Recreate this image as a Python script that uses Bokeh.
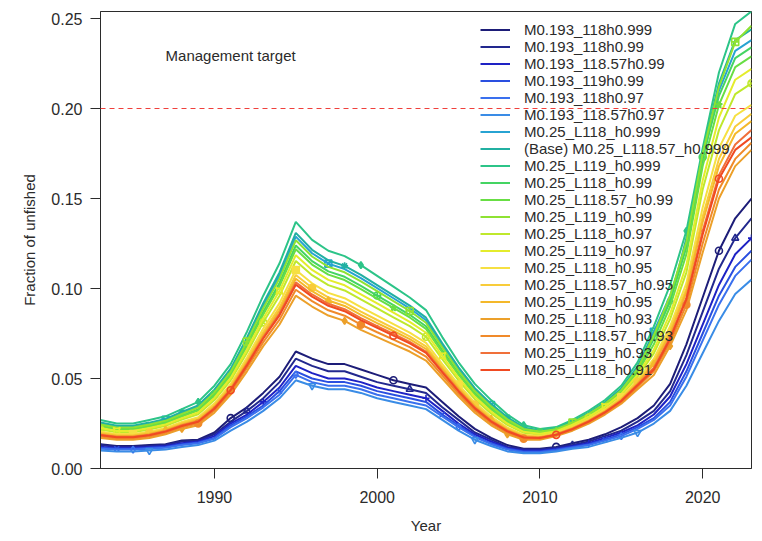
from bokeh.plotting import figure
from bokeh.models import Range1d, FixedTicker, Span, Label, Legend, LegendItem, NumeralTickFormatter
from bokeh.embed import file_html
from bokeh.resources import INLINE

# ---- data -------------------------------------------------------------
years = list(range(1983, 2024))
target = 0.20

m193_118_h999 = [0.0135, 0.0125, 0.0125, 0.013, 0.0135, 0.0155, 0.016, 0.020, 0.028, 0.034, 0.042, 0.051, 0.065, 0.061, 0.058, 0.058, 0.055, 0.052, 0.049, 0.047, 0.045, 0.037, 0.029, 0.022, 0.017, 0.013, 0.011, 0.011, 0.012, 0.014, 0.016, 0.019, 0.023, 0.028, 0.035, 0.047, 0.069, 0.095, 0.121, 0.139, 0.150]
m193_118_h99 = [0.013, 0.012, 0.012, 0.0125, 0.013, 0.015, 0.0155, 0.019, 0.026, 0.032, 0.039, 0.048, 0.061, 0.057, 0.054, 0.054, 0.051, 0.048, 0.046, 0.044, 0.042, 0.034, 0.027, 0.020, 0.016, 0.012, 0.0105, 0.0105, 0.0115, 0.013, 0.015, 0.018, 0.021, 0.026, 0.032, 0.043, 0.063, 0.087, 0.111, 0.128, 0.139]
m193_11857_h99 = [0.012, 0.0115, 0.0115, 0.012, 0.0125, 0.014, 0.015, 0.018, 0.025, 0.030, 0.037, 0.045, 0.057, 0.053, 0.050, 0.050, 0.048, 0.045, 0.043, 0.041, 0.039, 0.032, 0.025, 0.019, 0.015, 0.0115, 0.010, 0.010, 0.011, 0.0125, 0.014, 0.017, 0.020, 0.024, 0.030, 0.040, 0.058, 0.080, 0.102, 0.119, 0.128]
m193_119_h99 = [0.0115, 0.011, 0.011, 0.0115, 0.012, 0.0135, 0.0145, 0.017, 0.024, 0.029, 0.035, 0.043, 0.054, 0.050, 0.048, 0.048, 0.046, 0.043, 0.041, 0.039, 0.037, 0.030, 0.024, 0.018, 0.014, 0.011, 0.0095, 0.0095, 0.0105, 0.012, 0.0135, 0.016, 0.019, 0.023, 0.028, 0.037, 0.054, 0.075, 0.096, 0.112, 0.121]
m193_118_h97 = [0.011, 0.0105, 0.0105, 0.011, 0.0115, 0.013, 0.014, 0.0165, 0.023, 0.028, 0.034, 0.041, 0.052, 0.048, 0.046, 0.046, 0.044, 0.041, 0.039, 0.037, 0.035, 0.029, 0.023, 0.0175, 0.0135, 0.0105, 0.009, 0.009, 0.010, 0.0115, 0.013, 0.0155, 0.018, 0.022, 0.027, 0.035, 0.051, 0.071, 0.091, 0.107, 0.116]
m193_11857_h97 = [0.010, 0.0095, 0.0095, 0.010, 0.0105, 0.012, 0.013, 0.0155, 0.021, 0.026, 0.032, 0.039, 0.049, 0.046, 0.044, 0.044, 0.042, 0.039, 0.037, 0.035, 0.033, 0.027, 0.021, 0.016, 0.0125, 0.0095, 0.0085, 0.0085, 0.0095, 0.011, 0.012, 0.0145, 0.017, 0.020, 0.025, 0.032, 0.046, 0.064, 0.082, 0.097, 0.105]

m25_l118_h999 = [0.025, 0.0232, 0.0232, 0.025, 0.027, 0.0308, 0.0344, 0.043, 0.0546, 0.0716, 0.0904, 0.1072, 0.1288, 0.1196, 0.1138, 0.1108, 0.1058, 0.1002, 0.0946, 0.089, 0.0824, 0.0684, 0.0552, 0.0438, 0.0352, 0.0278, 0.0224, 0.0208, 0.022, 0.0258, 0.0306, 0.0364, 0.044, 0.056, 0.076, 0.096, 0.124, 0.172, 0.210, 0.232, 0.238]
m25_l11857_h999 = [0.0255, 0.0237, 0.0237, 0.0255, 0.0275, 0.0314, 0.0351, 0.0438, 0.0555, 0.0727, 0.0918, 0.1089, 0.1309, 0.1215, 0.1156, 0.1126, 0.1076, 0.1019, 0.0962, 0.0905, 0.0838, 0.0696, 0.0562, 0.0446, 0.0359, 0.0284, 0.0228, 0.0211, 0.0223, 0.0261, 0.0309, 0.0368, 0.0445, 0.0568, 0.075, 0.093, 0.128, 0.176, 0.214, 0.238, 0.244]
m25_l119_h999 = [0.027, 0.025, 0.025, 0.027, 0.029, 0.033, 0.037, 0.046, 0.058, 0.076, 0.096, 0.114, 0.137, 0.127, 0.121, 0.118, 0.113, 0.107, 0.101, 0.095, 0.088, 0.073, 0.059, 0.047, 0.038, 0.030, 0.024, 0.022, 0.023, 0.027, 0.032, 0.038, 0.046, 0.059, 0.079, 0.102, 0.132, 0.178, 0.220, 0.247, 0.254]
m25_l118_h99 = [0.0238, 0.0221, 0.0221, 0.0238, 0.0258, 0.0295, 0.0328, 0.0412, 0.0526, 0.069, 0.087, 0.1031, 0.1239, 0.1152, 0.1095, 0.1065, 0.1015, 0.0961, 0.0908, 0.0854, 0.079, 0.0656, 0.0529, 0.0419, 0.0335, 0.0265, 0.0214, 0.0201, 0.0214, 0.0251, 0.0298, 0.0354, 0.0428, 0.0542, 0.072, 0.093, 0.123, 0.173, 0.207, 0.228, 0.234]
m25_l11857_h99 = [0.0233, 0.0217, 0.0217, 0.0233, 0.0253, 0.0289, 0.0322, 0.0404, 0.0517, 0.0679, 0.0856, 0.1014, 0.1218, 0.1133, 0.1077, 0.1047, 0.0997, 0.0944, 0.0892, 0.0839, 0.0776, 0.0645, 0.052, 0.0411, 0.0328, 0.0259, 0.021, 0.0198, 0.0211, 0.0248, 0.0294, 0.035, 0.0423, 0.0534, 0.069, 0.090, 0.119, 0.168, 0.202, 0.223, 0.229]
m25_l119_h99 = [0.0245, 0.0228, 0.0228, 0.0245, 0.0265, 0.0303, 0.0338, 0.0423, 0.0538, 0.0705, 0.089, 0.1055, 0.1268, 0.1178, 0.112, 0.109, 0.104, 0.0985, 0.093, 0.0875, 0.081, 0.0673, 0.0543, 0.043, 0.0345, 0.0273, 0.022, 0.0205, 0.0218, 0.0255, 0.0303, 0.036, 0.0435, 0.0553, 0.074, 0.096, 0.126, 0.175, 0.212, 0.237, 0.246]
m25_l118_h97 = [0.0217, 0.0202, 0.0202, 0.0217, 0.0237, 0.0272, 0.0301, 0.038, 0.049, 0.0643, 0.0812, 0.096, 0.1153, 0.1074, 0.1019, 0.0989, 0.0939, 0.089, 0.084, 0.0791, 0.0732, 0.0608, 0.0489, 0.0385, 0.0306, 0.0242, 0.0198, 0.0188, 0.0203, 0.0238, 0.0283, 0.0338, 0.0407, 0.051, 0.064, 0.083, 0.109, 0.155, 0.188, 0.208, 0.214]
m25_l119_h97 = [0.0225, 0.0209, 0.0209, 0.0225, 0.0245, 0.028, 0.0311, 0.0392, 0.0503, 0.0661, 0.0834, 0.0987, 0.1185, 0.1103, 0.1048, 0.1018, 0.0968, 0.0917, 0.0866, 0.0815, 0.0754, 0.0626, 0.0504, 0.0398, 0.0317, 0.025, 0.0204, 0.0193, 0.0207, 0.0243, 0.0288, 0.0344, 0.0415, 0.0522, 0.066, 0.086, 0.113, 0.160, 0.195, 0.216, 0.222]
m25_l118_h95 = [0.0205, 0.0191, 0.0191, 0.0205, 0.0225, 0.0258, 0.0285, 0.0362, 0.0469, 0.0617, 0.0778, 0.0919, 0.1103, 0.1029, 0.0976, 0.0946, 0.0896, 0.0849, 0.0802, 0.0755, 0.0698, 0.058, 0.0466, 0.0366, 0.0289, 0.0228, 0.0188, 0.0181, 0.0197, 0.0231, 0.0274, 0.0328, 0.0395, 0.0492, 0.061, 0.079, 0.103, 0.145, 0.178, 0.196, 0.202]
m25_l11857_h95 = [0.0198, 0.0185, 0.0185, 0.0198, 0.0218, 0.0251, 0.0276, 0.0352, 0.0458, 0.0602, 0.0758, 0.0895, 0.1075, 0.1004, 0.0951, 0.0921, 0.0871, 0.0825, 0.078, 0.0734, 0.0678, 0.0564, 0.0453, 0.0355, 0.0279, 0.0221, 0.0182, 0.0177, 0.0194, 0.0227, 0.027, 0.0322, 0.0388, 0.0482, 0.059, 0.077, 0.100, 0.140, 0.172, 0.190, 0.197]
m25_l119_h95 = [0.0193, 0.0181, 0.0181, 0.0193, 0.0213, 0.0245, 0.027, 0.0344, 0.0449, 0.0591, 0.0744, 0.0878, 0.1054, 0.0985, 0.0933, 0.0903, 0.0853, 0.0808, 0.0764, 0.0719, 0.0664, 0.0553, 0.0444, 0.0347, 0.0272, 0.0215, 0.0178, 0.0174, 0.0191, 0.0224, 0.0266, 0.0318, 0.0383, 0.0474, 0.058, 0.075, 0.098, 0.137, 0.168, 0.186, 0.193]
m25_l118_h93 = [0.017, 0.016, 0.016, 0.017, 0.019, 0.022, 0.024, 0.031, 0.041, 0.054, 0.068, 0.080, 0.096, 0.090, 0.085, 0.082, 0.077, 0.073, 0.069, 0.065, 0.060, 0.050, 0.040, 0.031, 0.024, 0.019, 0.016, 0.016, 0.018, 0.021, 0.025, 0.030, 0.036, 0.044, 0.052, 0.068, 0.088, 0.120, 0.150, 0.168, 0.177]
m25_l11857_h93 = [0.0178, 0.0167, 0.0167, 0.0178, 0.0198, 0.0229, 0.025, 0.0322, 0.0424, 0.0558, 0.0702, 0.0827, 0.0993, 0.093, 0.0879, 0.0849, 0.0799, 0.0757, 0.0716, 0.0674, 0.0622, 0.0518, 0.0415, 0.0323, 0.0251, 0.0199, 0.0166, 0.0165, 0.0184, 0.0215, 0.0256, 0.0306, 0.0368, 0.0452, 0.054, 0.070, 0.091, 0.125, 0.155, 0.172, 0.181]
m25_l119_h93 = [0.0188, 0.0176, 0.0176, 0.0188, 0.0208, 0.024, 0.0263, 0.0337, 0.0441, 0.058, 0.073, 0.0861, 0.1034, 0.0967, 0.0915, 0.0885, 0.0835, 0.0791, 0.0748, 0.0704, 0.065, 0.0541, 0.0434, 0.0339, 0.0265, 0.021, 0.0174, 0.0171, 0.0189, 0.0221, 0.0263, 0.0314, 0.0378, 0.0467, 0.056, 0.073, 0.095, 0.132, 0.163, 0.180, 0.188]
m25_l118_h91 = [0.0185, 0.0173, 0.0173, 0.0185, 0.0205, 0.0236, 0.026, 0.0332, 0.0435, 0.0573, 0.0722, 0.0851, 0.1021, 0.0955, 0.0904, 0.0874, 0.0824, 0.0781, 0.0738, 0.0695, 0.0642, 0.0534, 0.0428, 0.0334, 0.0261, 0.0206, 0.0172, 0.0169, 0.0187, 0.0219, 0.026, 0.0312, 0.0375, 0.0462, 0.055, 0.072, 0.094, 0.130, 0.161, 0.177, 0.184]

labels = [
    "M0.193_118h0.999", "M0.193_118h0.99", "M0.193_118.57h0.99", "M0.193_119h0.99",
    "M0.193_118h0.97", "M0.193_118.57h0.97", "M0.25_L118_h0.999",
    "(Base) M0.25_L118.57_h0.999", "M0.25_L119_h0.999", "M0.25_L118_h0.99",
    "M0.25_L118.57_h0.99", "M0.25_L119_h0.99", "M0.25_L118_h0.97", "M0.25_L119_h0.97",
    "M0.25_L118_h0.95", "M0.25_L118.57_h0.95", "M0.25_L119_h0.95", "M0.25_L118_h0.93",
    "M0.25_L118.57_h0.93", "M0.25_L119_h0.93", "M0.25_L118_h0.91",
]
series = [
    m193_118_h999, m193_118_h99, m193_11857_h99, m193_119_h99, m193_118_h97, m193_11857_h97,
    m25_l118_h999, m25_l11857_h999, m25_l119_h999, m25_l118_h99, m25_l11857_h99, m25_l119_h99,
    m25_l118_h97, m25_l119_h97, m25_l118_h95, m25_l11857_h95, m25_l119_h95, m25_l118_h93,
    m25_l11857_h93, m25_l119_h93, m25_l118_h91,
]

# ---- styling ----------------------------------------------------------
colors = [
    "#1d1d78", "#22288e", "#1e22c4", "#2a4fe0", "#3a70ee", "#3a8ce6", "#27a3d2",
    "#21b0a2", "#2cc488", "#44d462", "#68de44", "#8ee232", "#bfe82c", "#e4ec2c",
    "#f6e042", "#f8cc3a", "#f4b82a", "#eca02a", "#f08a2a", "#f0703a", "#f04a22",
]
# (marker type, filled) per series, cycling through the plotting symbols
markers = [
    ("circle", False), ("triangle", False), ("cross", False), ("x", False),
    ("diamond", False), ("inverted_triangle", False), ("square_x", False),
    ("asterisk", False), ("diamond_cross", False), ("circle_cross", False),
    ("star", False), ("square_cross", False), ("circle_x", False), ("square_pin", False),
    ("square", True), ("circle", True), ("triangle", True), ("diamond", True),
    ("circle", True), ("dot", True), ("circle", False),
]

FONT = "Liberation Sans"
INK = "#2b2b2b"

p = figure(
    width=762, height=541, output_backend="svg", toolbar_location=None,
    x_range=Range1d(1983, 2023), y_range=Range1d(0, 0.2539),
    min_border_left=100, min_border_right=11, min_border_top=11, min_border_bottom=73,
    background_fill_color="white", border_fill_color="white",
)
p.grid.visible = False
p.outline_line_color = INK
p.outline_line_width = 1

for ax in (p.xaxis[0], p.yaxis[0]):
    ax.axis_line_color = INK
    ax.major_tick_line_color = INK
    ax.minor_tick_line_color = None
    ax.major_tick_out = 10
    ax.major_tick_in = 0
    ax.major_label_text_font = FONT
    ax.major_label_text_font_size = "16px"
    ax.major_label_text_color = INK
    ax.axis_label_text_font = FONT
    ax.axis_label_text_font_size = "15px"
    ax.axis_label_text_font_style = "normal"
    ax.axis_label_text_color = INK

p.xaxis.ticker = FixedTicker(ticks=[1990, 2000, 2010, 2020])
p.xaxis.axis_label = "Year"
p.xaxis.major_label_standoff = 12
p.xaxis.axis_label_standoff = 11
p.yaxis.ticker = FixedTicker(ticks=[0.0, 0.05, 0.10, 0.15, 0.20, 0.25])
p.yaxis.formatter = NumeralTickFormatter(format="0.00")
p.yaxis.axis_label = "Fraction of unfished"
p.yaxis.major_label_standoff = 8
p.yaxis.axis_label_standoff = 10

# management target reference line
p.add_layout(Span(location=target, dimension="width", line_color="#f0403c",
                  line_dash="5 4", line_width=1.2))
p.add_layout(Label(x=1987.0, y=0.2294, text="Management target", text_font=FONT,
                   text_font_size="15px", text_color=INK, text_baseline="middle"))

items = []
for i, (lab, vals, col, (mk, filled)) in enumerate(zip(labels, series, colors, markers)):
    r = p.line(years, vals, line_color=col, line_width=2)
    # symbols every ten years, offset by series number
    mx = [y for y in years if y % 10 == (i + 1) % 10]
    my = [vals[years.index(y)] for y in mx]
    p.scatter(mx, my, marker=mk, size=7 if mk != "dot" else 12, line_color=col,
              line_width=1.6, fill_color=col if filled else None)
    items.append(LegendItem(label=lab, renderers=[r]))

legend = Legend(
    items=items, location=(380, 90), orientation="vertical",
    border_line_alpha=0, background_fill_alpha=0,
    glyph_width=30, glyph_height=17, label_height=17, spacing=0,
    padding=0, margin=0, label_standoff=14,
    label_text_font=FONT, label_text_font_size="15px", label_text_color=INK,
)
p.add_layout(legend)

open("out.html", "w").write(file_html(p, INLINE))
